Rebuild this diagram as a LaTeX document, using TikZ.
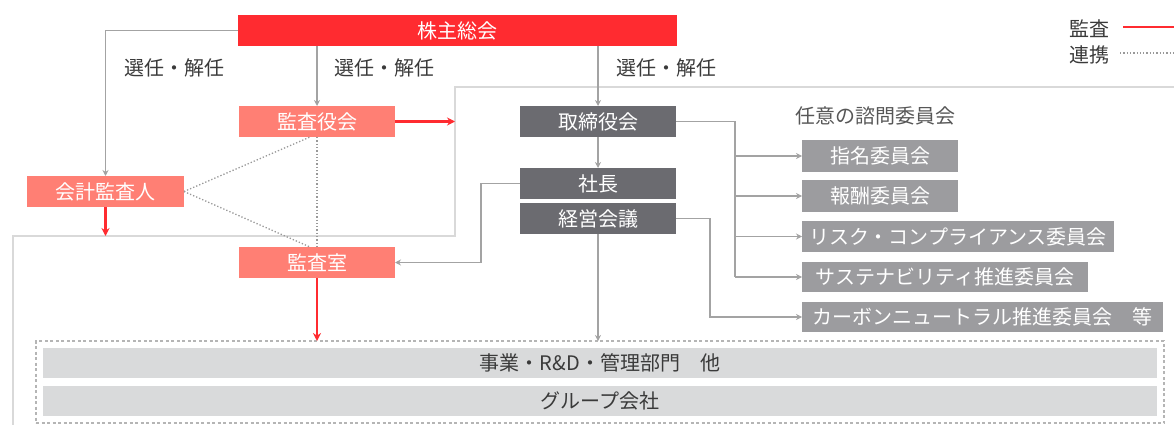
\documentclass[tikz,border=0pt]{standalone}
\usepackage{fontspec}
\newfontfamily\jp{Noto Sans CJK JP}
\usetikzlibrary{arrows.meta,calc}
\definecolor{cred}{HTML}{FF2B30}
\definecolor{csalmon}{HTML}{FF7F74}
\definecolor{cdark}{HTML}{6B6B70}
\definecolor{ccomm}{HTML}{9C9C9F}
\definecolor{cbar}{HTML}{D9DADB}
\definecolor{cline}{HTML}{A3A3A3}
\definecolor{cframe}{HTML}{D9D9D9}
\definecolor{ctext}{HTML}{3A3A3A}
\tikzset{
  box/.style={inner sep=0pt, outer sep=0pt, text=white, font=\jp\fontsize{20}{20}\selectfont},
  redbox/.style={box, fill=cred},
  salbox/.style={box, fill=csalmon},
  darkbox/.style={box, fill=cdark},
  commbox/.style={box, fill=ccomm},
  barbox/.style={box, fill=cbar, text=ctext},
  lbl/.style={inner sep=0pt, text=ctext, font=\jp\fontsize{20}{20}\selectfont},
  gline/.style={draw=cline, line width=1.4pt},
  garrow/.style={gline, -{Stealth[length=6pt,width=6pt]}},
  rarrow/.style={draw=cred, line width=2.4pt, -{Stealth[length=8pt,width=8pt]}},
  link/.style={draw=gray!80, line width=1.3pt, dotted},
}
\begin{document}
\begin{tikzpicture}[x=1pt,y=-1pt]
\useasboundingbox (0,0) rectangle (1174,425);
% frame
\draw[cframe, line width=2pt] (1174,87) -- (455,87) -- (455,236) -- (13,236) -- (13,425);
\coordinate (frameL) at (455,87);
\coordinate (frameB) at (13,236);

% outer dotted box
\node[draw=cline!80, line width=1.4pt, dash pattern=on 3pt off 2.5pt, minimum width=1128pt, minimum height=82pt, inner sep=0pt, outer sep=0pt] (outer) at (600,382) {};
\node[barbox, minimum width=1114pt, minimum height=30pt] (bar1) at (600,363) {事業・R\&D・管理部門　他};
\node[barbox, minimum width=1114pt, minimum height=30pt] (bar2) at (600,401) {グループ会社};

% nodes
\node[redbox, minimum width=439pt, minimum height=31pt] (sh) at (457.5,30.5) {株主総会};
\node[salbox, minimum width=156pt, minimum height=31pt] (kansayaku) at (317,121.5) {監査役会};
\node[salbox, minimum width=157pt, minimum height=31pt] (kaikei) at (105.5,191.5) {会計監査人};
\node[salbox, minimum width=156pt, minimum height=31pt] (shitsu) at (317,262.5) {監査室};
\node[darkbox, minimum width=156pt, minimum height=31pt] (tori) at (598,121.5) {取締役会};
\node[darkbox, minimum width=156pt, minimum height=31pt] (shacho) at (598,183.5) {社長};
\node[darkbox, minimum width=156pt, minimum height=31pt] (keiei) at (598,218.5) {経営会議};

\node[commbox, minimum width=156pt, minimum height=32pt] (shimei) at (880,156) {指名委員会};
\node[commbox, minimum width=156pt, minimum height=32pt] (hoshu) at (880,196) {報酬委員会};
\node[commbox, minimum width=312pt, minimum height=31pt] (risk) at (958,236.5) {リスク・コンプライアンス委員会};
\node[commbox, minimum width=286pt, minimum height=30pt] (sustain) at (945,277) {サステナビリティ推進委員会};
\node[commbox, minimum width=361pt, minimum height=30pt] (carbon) at (982.5,317) {カーボンニュートラル推進委員会　等};

% labels
\node[lbl] (l1) at (174,68) {選任・解任};
\node[lbl] (l2) at (384.5,68) {選任・解任};
\node[lbl] (l3) at (666.5,68) {選任・解任};
\node[lbl, text=ctext!85] (nin) at (875.5,116) {任意の諮問委員会};

% legend
\node[lbl] (lg1) at (1089,29) {監査};
\node[lbl] (lg2) at (1089,55) {連携};
\coordinate (lg1e) at (1174,27);
\coordinate (lg2e) at (1174,53);
\draw[cred, line width=2.4pt] (1123,27) -- (lg1e);
\draw[link, line width=1.1pt] (1120,53) -- (lg2e);

% gray connectors
\draw[garrow] (sh.west) -| (kaikei.north);
\draw[garrow] (kansayaku.north |- sh.south) -- (kansayaku.north);
\draw[garrow] (tori.north |- sh.south) -- (tori.north);
\draw[garrow] (tori.south) -- (shacho.north);
\draw[garrow] (keiei.south) -- (keiei.south |- outer.north);
\draw[garrow] (shacho.west) -- ++(-39,0) |- (shitsu.east);

\coordinate (bus) at (735,121.5);
\draw[gline] (tori.east) -- (bus) -- (bus |- sustain.west);
\draw[garrow] (bus |- shimei.west) -- (shimei.west);
\draw[garrow] (bus |- hoshu.west) -- (hoshu.west);
\draw[garrow] (bus |- risk.west) -- (risk.west);
\draw[garrow] (bus |- sustain.west) -- (sustain.west);
\draw[garrow] (keiei.east) -- ++(34,0) |- (carbon.west);

% red connectors
\draw[rarrow] (kansayaku.east) -- (kansayaku.east -| frameL);
\draw[rarrow] (kaikei.south) -- (kaikei.south |- frameB);
\draw[rarrow] (shitsu.south) -- (shitsu.south |- outer.north);

% dotted links
\draw[link] (kaikei.east) -- ([xshift=-7pt]kansayaku.south);
\draw[link] (kaikei.east) -- ([xshift=-7pt]shitsu.north);
\draw[link] (kansayaku.south) -- (shitsu.north);
\end{tikzpicture}
\end{document}
